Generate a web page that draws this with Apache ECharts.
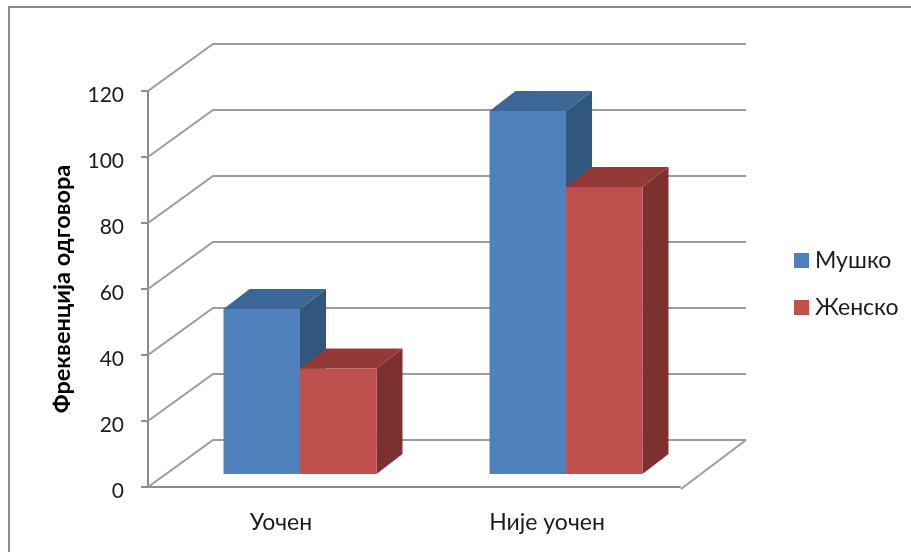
<!DOCTYPE html>
<html>
<head>
<meta charset="utf-8">
<style>html,body{margin:0;padding:0;background:#fff}#chart{width:911px;height:552px}</style>
<script src="https://cdn.jsdelivr.net/npm/echarts@6/dist/echarts.min.js"></script>
</head>
<body>
<div id="chart"></div>
<script>
// Response counts by gender for each answer group
const categories = ['Уочен', 'Није уочен'];
const male = [50, 110];
const female = [32, 87];
const wallTicks = [0, 20, 40, 60, 80, 100, 120];

const FONT = 'Lato, "Open Sans", sans-serif';
const TEXT = '#1c1c1c';
const AXIS = '#8c8c8c';
const WALL = '#9c9c9c';

// Oblique projection: how far the back wall and the bars sit behind the axis plane
const WALL_DEPTH = [65, -47];
const BAR_INSET = [19, -13];
const BAR_DEPTH = [26, -20];
const BAR_WIDTH_RATIO = 0.2875;

// Back wall and floor, one polyline per tick value
function renderWall(params, api) {
  const v = api.value(0);
  const cs = params.coordSys;
  const y = api.coord([0, v])[1];
  const bx = cs.x + WALL_DEPTH[0], by = y + WALL_DEPTH[1];
  const children = [{
    type: 'polyline',
    shape: { points: [[cs.x, y], [bx, by], [bx + cs.width + 1, by]] },
    style: { fill: null, stroke: WALL, lineWidth: 2 }
  }];
  if (v === 0) {
    children.push({
      type: 'line',
      shape: { x1: bx + cs.width + 1, y1: by, x2: cs.x + cs.width + 1, y2: y + 2 },
      style: { stroke: WALL, lineWidth: 2 }
    });
  }
  return { type: 'group', children };
}

// Extruded column: front, top and side faces through the value axis scale
function column(slot, front, top, side) {
  return function (params, api) {
    const c = api.value(0);
    const v = api.value(1);
    const band = api.size([1, 0])[0];
    const w = band * BAR_WIDTH_RATIO;
    const center = api.coord([c, 0]);
    const topPt = api.coord([c, v]);
    const x0 = center[0] + BAR_INSET[0] + slot * w;
    const x1 = x0 + w;
    const yBase = center[1] + BAR_INSET[1];
    const yTop = topPt[1] + BAR_INSET[1];
    const dx = BAR_DEPTH[0], dy = BAR_DEPTH[1];
    return {
      type: 'group',
      children: [
        { type: 'polygon', shape: { points: [[x1, yBase], [x1 + dx, yBase + dy], [x1 + dx, yTop + dy], [x1, yTop]] }, style: { fill: side } },
        { type: 'polygon', shape: { points: [[x0, yTop], [x1, yTop], [x1 + dx, yTop + dy], [x0 + dx, yTop + dy]] }, style: { fill: top } },
        { type: 'rect', shape: { x: x0, y: yTop, width: w, height: yBase - yTop }, style: { fill: front } }
      ]
    };
  };
}

const chart = echarts.init(document.getElementById('chart'), null, { renderer: 'canvas' });
chart.setOption({
  animation: false,
  backgroundColor: '#fff',
  textStyle: { fontFamily: FONT },
  graphic: [
    { type: 'polyline', silent: true, shape: { points: [[9, 552], [9, 7], [911, 7]] }, style: { fill: null, stroke: '#8a8a8a', lineWidth: 2 } }
  ],
  grid: { left: 148, top: 91, width: 532, height: 396, containLabel: false },
  legend: {
    orient: 'vertical',
    left: 789,
    top: 244,
    itemWidth: 15,
    itemHeight: 15,
    itemGap: 24,
    icon: 'rect',
    selectedMode: false,
    data: ['Мушко', 'Женско'],
    textStyle: { fontFamily: FONT, fontSize: 23, color: TEXT, padding: [2, 0, 0, 1] }
  },
  xAxis: {
    type: 'category',
    data: categories,
    offset: 2,
    axisLine: { lineStyle: { color: AXIS, width: 2 } },
    axisTick: { show: false },
    axisLabel: { fontFamily: FONT, fontSize: 23, color: TEXT, margin: 22 },
    splitLine: { show: false }
  },
  yAxis: {
    type: 'value',
    min: 0,
    max: 120,
    interval: 20,
    name: 'Фреквенција одговора',
    nameLocation: 'middle',
    nameGap: 74,
    nameRotate: 90,
    nameTextStyle: { fontFamily: FONT, fontSize: 23.5, fontWeight: 'bold', color: '#000' },
    axisLine: { show: true, lineStyle: { color: AXIS, width: 2 } },
    axisTick: { show: true, length: 7, lineStyle: { color: AXIS, width: 2 } },
    axisLabel: { fontFamily: FONT, fontSize: 21, color: TEXT, margin: 24, verticalAlign: 'top', lineHeight: 8 },
    splitLine: { show: false }
  },
  series: [
    {
      type: 'custom',
      silent: true,
      z: 1,
      coordinateSystem: 'cartesian2d',
      renderItem: renderWall,
      encode: { y: 0 },
      data: wallTicks.map(v => [v])
    },
    {
      name: 'Мушко',
      type: 'custom',
      z: 2,
      coordinateSystem: 'cartesian2d',
      itemStyle: { color: '#4F81BD' },
      renderItem: column(-1, '#4F81BD', '#3C6695', '#31577F'),
      encode: { x: 0, y: 1 },
      data: categories.map((c, i) => [i, male[i]])
    },
    {
      name: 'Женско',
      type: 'custom',
      z: 3,
      coordinateSystem: 'cartesian2d',
      itemStyle: { color: '#C0504D' },
      renderItem: column(0, '#C0504D', '#923A38', '#7C302F'),
      encode: { x: 0, y: 1 },
      data: categories.map((c, i) => [i, female[i]])
    }
  ]
});
</script>
</body>
</html>
